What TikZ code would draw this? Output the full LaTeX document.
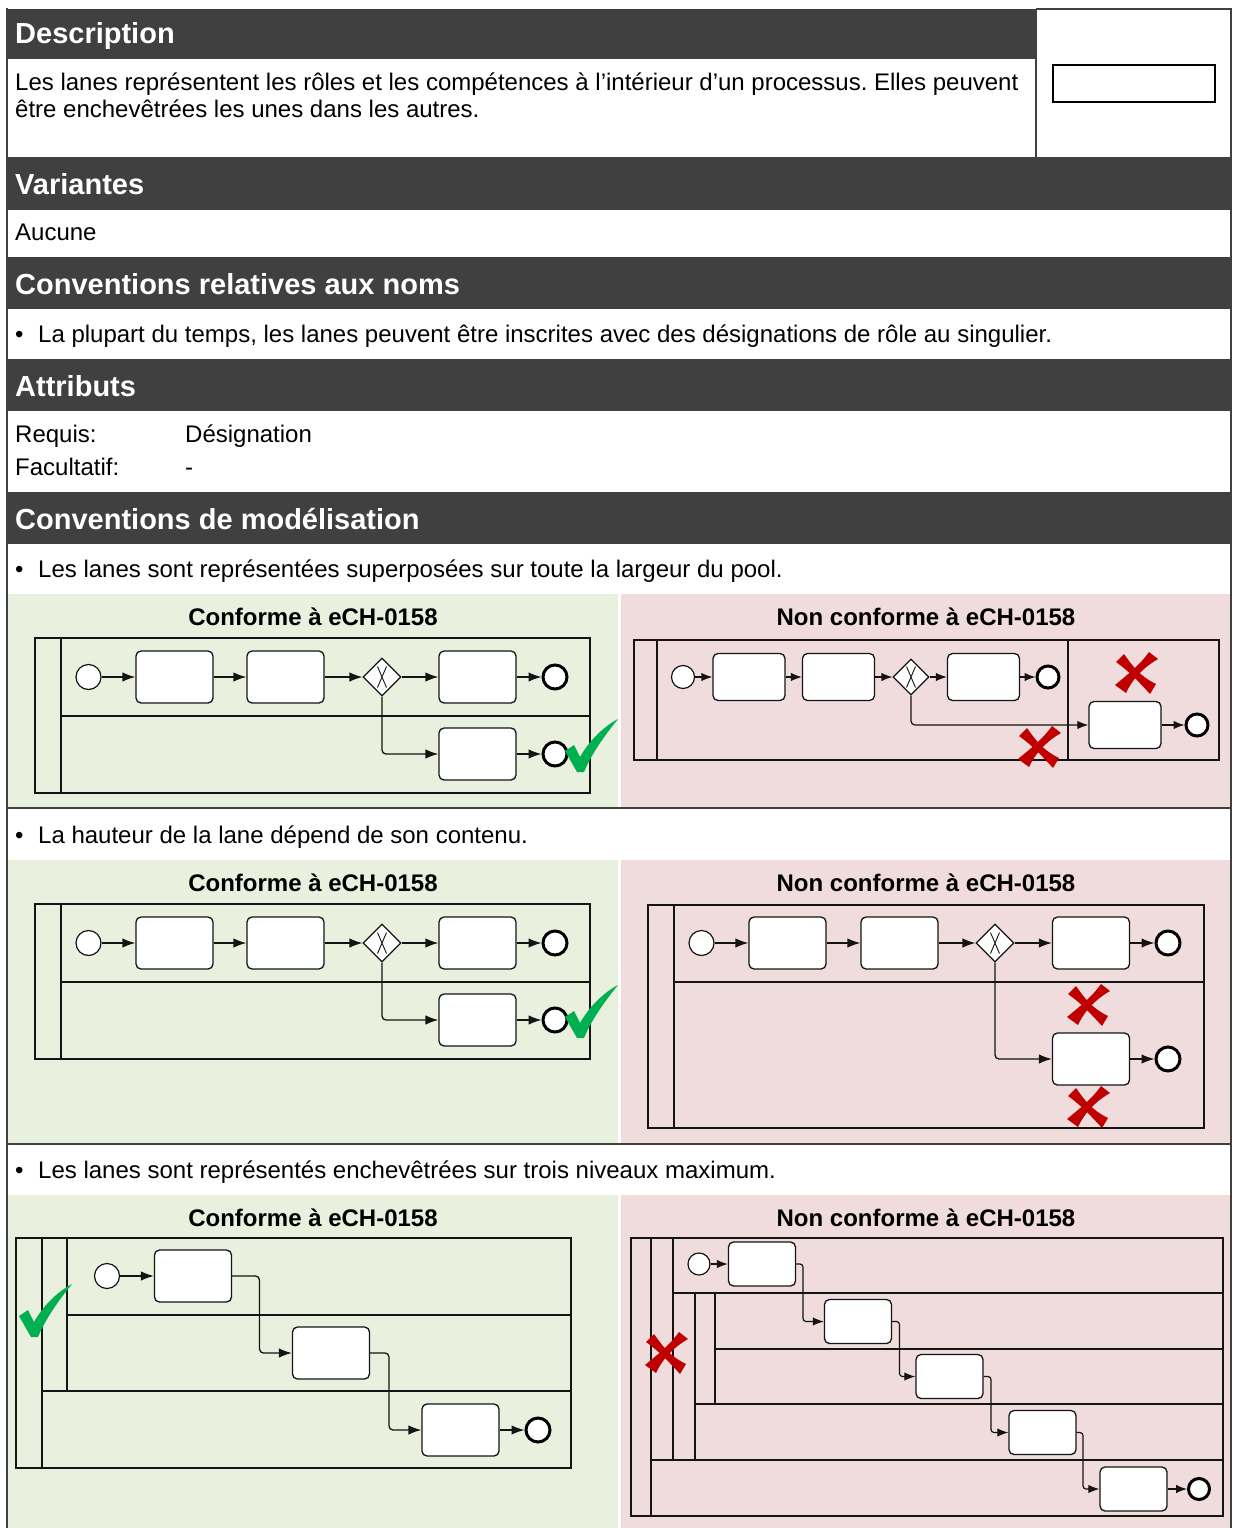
\documentclass[tikz,border=0pt]{standalone}
\usepackage{fontspec}
\setmainfont{Liberation Sans}
\frenchspacing
\usetikzlibrary{shapes.geometric,arrows.meta}
\definecolor{hdr}{HTML}{404040}
\definecolor{okbg}{HTML}{E9F0DD}
\definecolor{kobg}{HTML}{F0DCDC}
\definecolor{okgreen}{HTML}{00B050}
\definecolor{kored}{HTML}{C00000}
\definecolor{ln}{HTML}{141414}
\newcommand\gwmark[1]{\draw[ln,line width=0.9pt] ([shift={(-4.5,-10.5)}]#1.center) -- ([shift={(4.5,10.5)}]#1.center) ([shift={(4.5,-10.5)}]#1.center) -- ([shift={(-4.5,10.5)}]#1.center);}
\newcommand\okmark[1]{\fill[okgreen,shift={#1}] (-14,-20) -- (-5,-26) -- (1,-14) .. controls (10,-30) and (24,-44) .. (39,-52) .. controls (26,-36) and (13,-18) .. (5,1) -- (-2,1) -- cycle;}
\newcommand\komark[1]{\begin{scope}[shift={#1}]
\fill[kored] (-13,-19) .. controls (-3,-5) and (3,3) .. (19,11) -- (13,21) .. controls (0,7) and (-6,0) .. (-21,-11) -- cycle;
\fill[kored] (21,-14) .. controls (9,-7) and (-3,3) .. (-11,20) -- (-22,12) .. controls (-10,2) and (2,-7) .. (12,-21) -- cycle;
\end{scope}}
\begin{document}
\begin{tikzpicture}[x=1pt,y=-1pt,
  txt/.style={anchor=base west,inner sep=0,font=\fontsize{24}{28}\selectfont},
  hd/.style={anchor=base west,inner sep=0,text=white,font=\fontsize{29}{33}\selectfont\bfseries},
  ttl/.style={anchor=base,inner sep=0,font=\fontsize{24}{28}\selectfont\bfseries},
  pool/.style={draw=ln,line width=1.5pt},
  task/.style={draw=ln,line width=1.3pt,rounded corners=5pt,fill=white,inner sep=0,minimum width=77pt,minimum height=52pt},
  taskS/.style={task,minimum width=72pt,minimum height=47pt},
  taskT/.style={task,minimum width=67pt,minimum height=44pt},
  startev/.style={circle,draw=ln,line width=1.2pt,fill=white,inner sep=0,minimum size=25pt},
  endev/.style={circle,draw=black,line width=3pt,fill=white,inner sep=0,minimum size=24pt},
  gw/.style={diamond,draw=ln,line width=1.2pt,fill=white,inner sep=0,minimum width=38pt,minimum height=38pt},
  flow/.style={draw=ln,line width=1.3pt,-{Latex[length=13pt,width=9.5pt]}},
  flowS/.style={draw=ln,line width=1.2pt,-{Latex[length=11pt,width=8.5pt]}},
  bar/.style={hdr,line width=2.5pt}]
\useasboundingbox (0,0) rectangle (1236,1528);
\fill[white] (0,0) rectangle (1236,1528);
% header bars
\fill[hdr] (7,9) rectangle (1036,59);
\fill[hdr] (7,157) rectangle (1231,210);
\fill[hdr] (7,257) rectangle (1231,309);
\fill[hdr] (7,359) rectangle (1231,411);
\fill[hdr] (7,492) rectangle (1231,544);
% panels
\fill[okbg] (7,594) rectangle (618,808);
\fill[kobg] (621,594) rectangle (1231,808);
\fill[okbg] (7,860) rectangle (618,1144);
\fill[kobg] (621,860) rectangle (1231,1144);
\fill[okbg] (7,1195) rectangle (618,1528);
\fill[kobg] (621,1195) rectangle (1231,1528);
% frame
\draw[bar] (7,8) -- (7,1528) (1231,8) -- (1231,1528) (1036,9) -- (1231,9) (1036,9) -- (1036,157)
  (7,808) -- (1231,808) (7,1144) -- (1231,1144);
\node[draw=black,line width=2pt,minimum width=162pt,minimum height=37pt,inner sep=0] (lanesym) at (1134,83.5) {};
% texts
\node[hd] (h1) at (15,44) {Description};
\node[txt] (d1) at (15,90) {Les lanes représentent les rôles et les compétences à l’intérieur d’un processus. Elles peuvent};
\node[txt] (d2) at (15,117) {être enchevêtrées les unes dans les autres.};
\node[hd] (h2) at (15,194) {Variantes};
\node[txt] (v1) at (15,240) {Aucune};
\node[hd] (h3) at (15,294) {Conventions relatives aux noms};
\node[txt] (n0) at (15,342) {•};
\node[txt] (n1) at (38,342) {La plupart du temps, les lanes peuvent être inscrites avec des désignations de rôle au singulier.};
\node[hd] (h4) at (15,396) {Attributs};
\node[txt] (a1) at (15,442) {Requis:};
\node[txt] (a2) at (185,442) {Désignation};
\node[txt] (a3) at (15,475) {Facultatif:};
\node[txt] (a4) at (185,475) {-};
\node[hd] (h5) at (15,529) {Conventions de modélisation};
\node[txt] (b1) at (15,577) {•};
\node[txt] (m1) at (38,577) {Les lanes sont représentées superposées sur toute la largeur du pool.};
\node[txt] (b2) at (15,843) {•};
\node[txt] (m2) at (38,843) {La hauteur de la lane dépend de son contenu.};
\node[txt] (b3) at (15,1178) {•};
\node[txt] (m3) at (38,1178) {Les lanes sont représentés enchevêtrées sur trois niveaux maximum.};
\node[ttl] (c1) at (313,625) {Conforme à eCH-0158};
\node[ttl] (k1) at (926,625) {Non conforme à eCH-0158};
\node[ttl] (c2) at (313,891) {Conforme à eCH-0158};
\node[ttl] (k2) at (926,891) {Non conforme à eCH-0158};
\node[ttl] (c3) at (313,1226) {Conforme à eCH-0158};
\node[ttl] (k3) at (926,1226) {Non conforme à eCH-0158};
% ---------- Panel 1 green
\draw[pool] (35,638) rectangle (590,793) (61,638) -- (61,793) (61,716) -- (590,716);
\node[startev] (p1s) at (88.5,677) {};
\node[task] (p1t1) at (174.5,677) {};
\node[task] (p1t2) at (285.5,677) {};
\node[gw] (p1g) at (382,677) {}; \gwmark{p1g}
\node[task] (p1t3) at (477.5,677) {};
\node[endev] (p1e1) at (555,677) {};
\node[task] (p1t4) at (477.5,754) {};
\node[endev] (p1e2) at (555,754) {};
\draw[flow] (p1s) -- (p1t1);
\draw[flow] (p1t1) -- (p1t2);
\draw[flow] (p1t2) -- (p1g);
\draw[flow] (p1g) -- (p1t3);
\draw[flow] (p1t3) -- (p1e1);
\draw[flow,rounded corners=4pt] (p1g.south) |- (p1t4.west);
\draw[flow] (p1t4) -- (p1e2);
\okmark{(579,771)}
% ---------- Panel 1 red
\draw[pool] (634,640) rectangle (1219,760) (657,640) -- (657,760) (1068,640) -- (1068,760);
\node[startev,minimum size=23pt] (q1s) at (683,677) {};
\node[taskS] (q1t1) at (749,677) {};
\node[taskS] (q1t2) at (838.5,677) {};
\node[gw,minimum width=36pt,minimum height=36pt] (q1g) at (911,677) {}; \gwmark{q1g}
\node[taskS] (q1t3) at (983.5,677) {};
\node[endev,minimum size=22pt] (q1e1) at (1048,677) {};
\node[taskS] (q1t4) at (1125,725) {};
\node[endev,minimum size=22pt] (q1e2) at (1197,725) {};
\draw[flowS] (q1s) -- (q1t1);
\draw[flowS] (q1t1) -- (q1t2);
\draw[flowS] (q1t2) -- (q1g);
\draw[flowS] (q1g) -- (q1t3);
\draw[flowS] (q1t3) -- (q1e1);
\draw[flowS,rounded corners=4pt] (q1g.south) |- (q1t4.west);
\draw[flowS] (q1t4) -- (q1e2);
\komark{(1137,673)}
\komark{(1040,747)}
% ---------- Panel 2 green
\draw[pool] (35,904) rectangle (590,1059) (61,904) -- (61,1059) (61,982) -- (590,982);
\node[startev] (p2s) at (88.5,943) {};
\node[task] (p2t1) at (174.5,943) {};
\node[task] (p2t2) at (285.5,943) {};
\node[gw] (p2g) at (382,943) {}; \gwmark{p2g}
\node[task] (p2t3) at (477.5,943) {};
\node[endev] (p2e1) at (555,943) {};
\node[task] (p2t4) at (477.5,1020) {};
\node[endev] (p2e2) at (555,1020) {};
\draw[flow] (p2s) -- (p2t1);
\draw[flow] (p2t1) -- (p2t2);
\draw[flow] (p2t2) -- (p2g);
\draw[flow] (p2g) -- (p2t3);
\draw[flow] (p2t3) -- (p2e1);
\draw[flow,rounded corners=4pt] (p2g.south) |- (p2t4.west);
\draw[flow] (p2t4) -- (p2e2);
\okmark{(579,1037)}
% ---------- Panel 2 red
\draw[pool] (648,905) rectangle (1204,1128) (674,905) -- (674,1128) (674,982) -- (1204,982);
\node[startev] (q2s) at (701.5,943) {};
\node[task] (q2t1) at (787.5,943) {};
\node[task] (q2t2) at (899.5,943) {};
\node[gw] (q2g) at (995,943) {}; \gwmark{q2g}
\node[task] (q2t3) at (1091,943) {};
\node[endev] (q2e1) at (1168,943) {};
\node[task] (q2t4) at (1091,1059) {};
\node[endev] (q2e2) at (1168,1059) {};
\draw[flow] (q2s) -- (q2t1);
\draw[flow] (q2t1) -- (q2t2);
\draw[flow] (q2t2) -- (q2g);
\draw[flow] (q2g) -- (q2t3);
\draw[flow] (q2t3) -- (q2e1);
\draw[flow,rounded corners=4pt] (q2g.south) |- (q2t4.west);
\draw[flow] (q2t4) -- (q2e2);
\komark{(1089,1005)}
\komark{(1089,1107)}
% ---------- Panel 3 green
\draw[pool] (16,1238) rectangle (571,1468) (42,1238) -- (42,1468) (67,1238) -- (67,1391)
  (67,1315) -- (571,1315) (42,1391) -- (571,1391);
\node[startev] (p3s) at (107,1276) {};
\node[task] (p3t1) at (193,1276) {};
\node[task] (p3t2) at (331,1353) {};
\node[task] (p3t3) at (460.5,1430) {};
\node[endev] (p3e) at (538,1430) {};
\draw[flow] (p3s) -- (p3t1);
\draw[flow,rounded corners=4pt] (p3t1.east) -- (259.5,1276) |- (p3t2.west);
\draw[flow,rounded corners=4pt] (p3t2.east) -- (389,1353) |- (p3t3.west);
\draw[flow] (p3t3) -- (p3e);
\okmark{(33,1336)}
% ---------- Panel 3 red
\draw[pool] (631,1238) rectangle (1223,1516) (651,1238) -- (651,1516) (673,1238) -- (673,1460)
  (673,1293) -- (1223,1293) (695,1293) -- (695,1460) (715,1293) -- (715,1404)
  (715,1349) -- (1223,1349) (695,1404) -- (1223,1404) (651,1460) -- (1223,1460);
\node[startev,minimum size=22pt] (q3s) at (699,1264) {};
\node[taskT] (q3t1) at (762,1264) {};
\node[taskT] (q3t2) at (858,1321.5) {};
\node[taskT] (q3t3) at (949.5,1376.5) {};
\node[taskT] (q3t4) at (1042.5,1432.5) {};
\node[taskT] (q3t5) at (1133.5,1489) {};
\node[endev,minimum size=21pt] (q3e) at (1199,1489) {};
\draw[flowS] (q3s) -- (q3t1);
\draw[flowS,rounded corners=3pt] (q3t1.east) -- (803,1264) |- (q3t2.west);
\draw[flowS,rounded corners=3pt] (q3t2.east) -- (899.5,1321.5) |- (q3t3.west);
\draw[flowS,rounded corners=3pt] (q3t3.east) -- (991,1376.5) |- (q3t4.west);
\draw[flowS,rounded corners=3pt] (q3t4.east) -- (1083,1432.5) |- (q3t5.west);
\draw[flowS] (q3t5) -- (q3e);
\komark{(667,1353)}
\end{tikzpicture}
\end{document}
